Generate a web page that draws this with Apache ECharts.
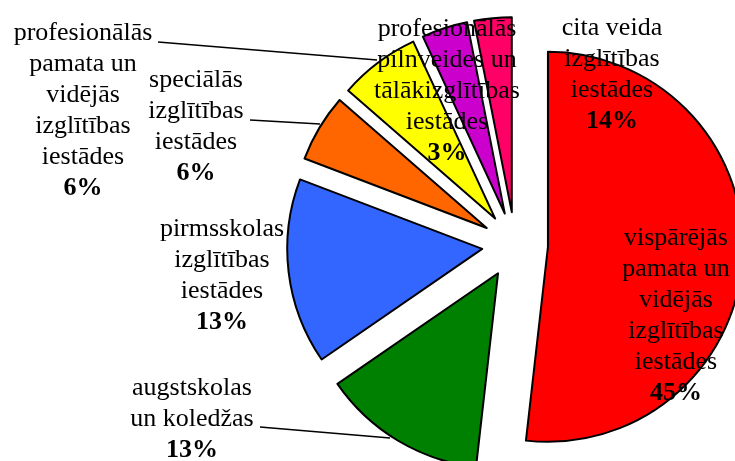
<!DOCTYPE html>
<html>
<head>
<meta charset="utf-8">
<script src="https://cdn.jsdelivr.net/npm/echarts@6/dist/echarts.min.js"></script>
<style>
  html, body { margin: 0; padding: 0; background: #fff; }
  #chart { width: 735px; height: 461px; }
</style>
</head>
<body>
<div id="chart"></div>
<script>
// slice names (line breaks as in the picture)
var names = [
  'vispārējās\npamata un\nvidējās\nizglītības\niestādes',
  'augstskolas\nun koledžas',
  'pirmsskolas\nizglītības\niestādes',
  'speciālās\nizglītības\niestādes',
  'profesionālās\npamata un\nvidējās\nizglītības\niestādes',
  'profesionālās\npilnveides un\ntālākizglītības\niestādes',
  'cita veida\nizglītības\niestādes'
];
// percentages printed on the chart
var pctLabels = ['45%', '13%', '13%', '6%', '6%', '3%', '14%'];
// slice sizes as drawn (share of the circle, %)
var shares = [51.8, 13.6, 15.4, 5.6, 6.7, 3.8, 3.1];
var colors = ['#FF0000', '#008000', '#3366FF', '#FF6600', '#FFFF00', '#CC00CC', '#FF0066'];

// where each label block sits (centre), and leader lines for the outside ones
var labelPos = [[676, 316], [192, 419], [222, 276], [196, 127], [83, 111], [447, 91], [612, 75]];
var leaders = [
  [[260, 427], [390, 438]],
  [[250, 120], [320, 124]],
  [[158, 42], [377, 60]]
];

var chart = echarts.init(document.getElementById('chart'));

var data = shares.map(function (v, i) {
  return {
    name: names[i],
    value: v,
    selected: true,
    itemStyle: { color: colors[i] }
  };
});

var rich = {
  n: { fontFamily: 'Liberation Serif', fontSize: 26, lineHeight: 31, fill: '#000', align: 'center' },
  p: { fontFamily: 'Liberation Serif', fontSize: 26, lineHeight: 31, fill: '#000', fontWeight: 'bold', align: 'center' }
};

var graphics = [];
leaders.forEach(function (pts) {
  graphics.push({
    type: 'polyline',
    z: 100,
    shape: { points: pts },
    style: { stroke: '#000', lineWidth: 1.5, fill: null }
  });
});
names.forEach(function (n, i) {
  graphics.push({
    type: 'text',
    z: 101,
    x: labelPos[i][0],
    y: labelPos[i][1],
    style: {
      text: '{n|' + n + '}\n{p|' + pctLabels[i] + '}',
      rich: rich,
      align: 'center',
      verticalAlign: 'middle',
      fill: '#000'
    }
  });
});

chart.setOption({
  animation: false,
  graphic: graphics,
  series: [{
    type: 'pie',
    center: [515, 245],
    radius: 195,
    startAngle: 90,
    clockwise: true,
    selectedMode: 'multiple',
    selectedOffset: 33,
    data: data,
    itemStyle: { borderColor: '#000', borderWidth: 2 },
    select: { itemStyle: { borderColor: '#000', borderWidth: 2 } },
    emphasis: { disabled: true },
    label: { show: false },
    labelLine: { show: false }
  }]
});
</script>
</body>
</html>
